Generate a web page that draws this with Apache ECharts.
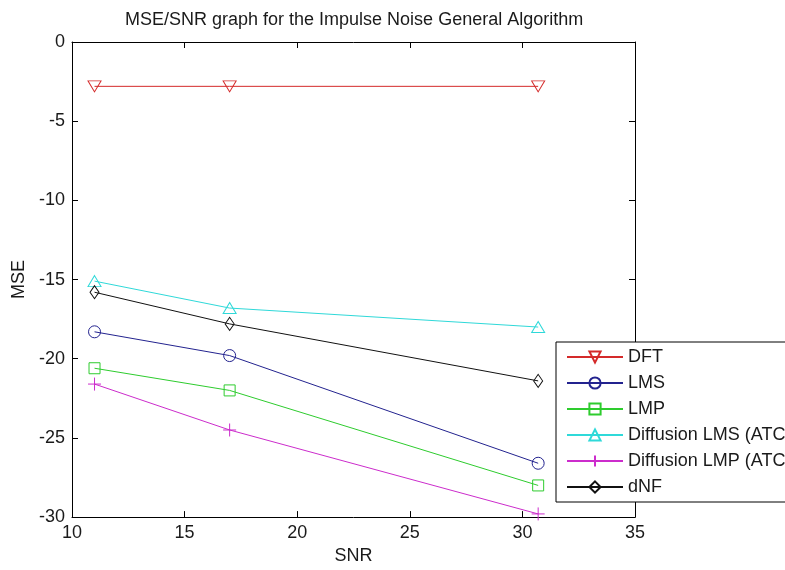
<!DOCTYPE html>
<html>
<head>
<meta charset="utf-8">
<script src="https://cdn.jsdelivr.net/npm/echarts@6/dist/echarts.min.js"></script>
<style>html,body{margin:0;padding:0;background:#fff}#c{width:785px;height:570px}</style>
</head>
<body>
<div id="c"></div>
<script>
const snr = [11, 17, 30.7];
const dft = [-2.8, -2.8, -2.8];
const lms = [-18.3, -19.8, -26.6];
const lmp = [-20.6, -22.0, -28.0];
const diffLms = [-15.1, -16.8, -18.0];
const diffLmp = [-21.6, -24.5, -29.8];
const dnf = [-15.8, -17.8, -21.4];
const xTicks = [10, 15, 20, 25, 30, 35];
const yTicks = [-30, -25, -20, -15, -10, -5, 0];

const FONT = '"Liberation Sans", Arial, sans-serif';
const TXT = '#1a1a1a';

function pts(ys){ return snr.map((x,i)=>[x, ys[i]]); }
function mk(name, ys, color, symbol, size, rotate){
  return {
    name, type:'line', data: pts(ys), xAxisIndex:0, yAxisIndex:0,
    symbol, symbolSize:size, symbolRotate: rotate||0,
    lineStyle:{color, width:1},
    itemStyle:{color:'rgba(0,0,0,0)', borderColor:color, borderWidth:1},
    emphasis:{disabled:true}, animation:false
  };
}

const chart = echarts.init(document.getElementById('c'), null, {renderer:'canvas'});
const axisCommon = {
  axisLine:{show:true, onZero:false, lineStyle:{color:'#000', width:1}},
  splitLine:{show:false},
};
chart.setOption({
  animation:false,
  backgroundColor:'#fff',
  title:{text:'MSE/SNR graph for the Impulse Noise General Algorithm', left:125, top:11, padding:0,
    textStyle:{fontFamily:FONT, fontSize:18, fontWeight:'normal', color:TXT}},
  grid:{left:72, right:150, top:42, bottom:48, containLabel:false},
  legend:{
    orient:'vertical', left:556, top:342, padding:[6,40,6,10],
    itemWidth:56, itemHeight:14, itemGap:8,
    backgroundColor:'#fff', borderColor:'#000', borderWidth:1, borderRadius:0,
    textStyle:{fontFamily:FONT, fontSize:18, color:TXT},
    data:['DFT','LMS','LMP','Diffusion LMS (ATC)','Diffusion LMP (ATC)','dNF']
  },
  xAxis:[
    Object.assign({type:'value', min:xTicks[0], max:xTicks[xTicks.length-1], interval:5, position:'bottom',
      name:'SNR', nameLocation:'middle', nameGap:29,
      nameTextStyle:{fontFamily:FONT, fontSize:18, color:TXT},
      axisTick:{show:true, inside:true, length:6, lineStyle:{color:'#000'}},
      axisLabel:{fontFamily:FONT, fontSize:18, color:TXT, margin:7}}, axisCommon),
    Object.assign({type:'value', min:xTicks[0], max:xTicks[xTicks.length-1], interval:5, position:'top',
      axisTick:{show:true, inside:true, length:6, lineStyle:{color:'#000'}},
      axisLabel:{show:false}}, axisCommon)
  ],
  yAxis:[
    Object.assign({type:'value', min:yTicks[0], max:yTicks[yTicks.length-1], interval:5, position:'left',
      name:'MSE', nameLocation:'middle', nameGap:42,
      nameTextStyle:{fontFamily:FONT, fontSize:18, color:TXT},
      axisTick:{show:true, inside:true, length:6, lineStyle:{color:'#000'}},
      axisLabel:{fontFamily:FONT, fontSize:18, color:TXT, margin:7}}, axisCommon),
    Object.assign({type:'value', min:yTicks[0], max:yTicks[yTicks.length-1], interval:5, position:'right',
      axisTick:{show:true, inside:true, length:6, lineStyle:{color:'#000'}},
      axisLabel:{show:false}}, axisCommon)
  ],
  series:[
    mk('DFT', dft, '#d42a2a', 'triangle', [13,11], 180),
    mk('LMS', lms, '#23238f', 'circle', 12),
    mk('LMP', lmp, '#2ecc2e', 'rect', 11),
    mk('Diffusion LMS (ATC)', diffLms, '#2fd9d9', 'triangle', [13,11]),
    mk('Diffusion LMP (ATC)', diffLmp, '#cc2ccc', 'path://M0,5L10,5M5,0L5,10', 13),
    mk('dNF', dnf, '#111111', 'diamond', [9,13])
  ]
});
</script>
</body>
</html>
